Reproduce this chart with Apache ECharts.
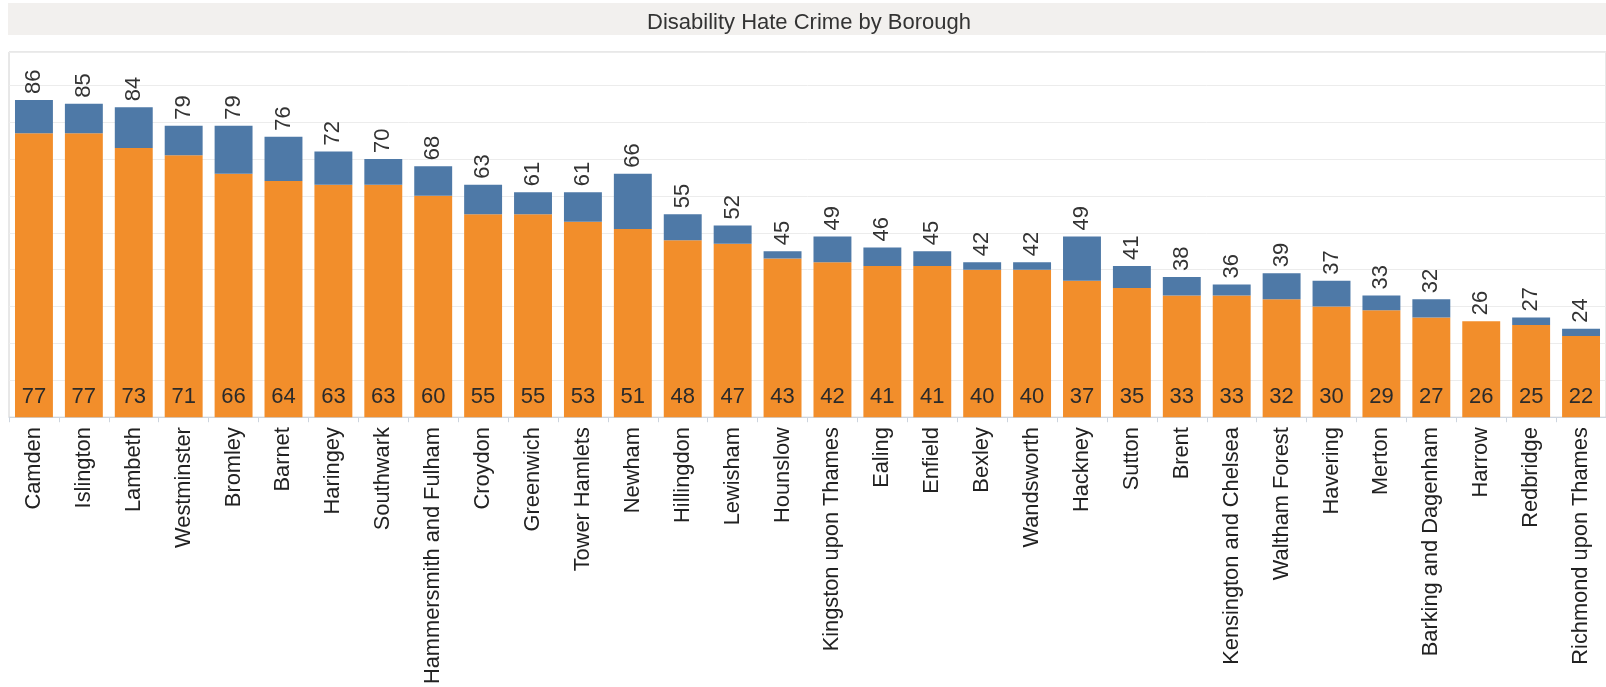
<!DOCTYPE html>
<html>
<head>
<meta charset="utf-8">
<script src="https://cdn.jsdelivr.net/npm/echarts@6/dist/echarts.min.js"></script>
<style>
html,body{margin:0;padding:0;background:#fff;overflow:hidden;}
#chart{width:1606px;height:687px;}
</style>
</head>
<body>
<div id="chart"></div>
<script>
const categories = ["Camden","Islington","Lambeth","Westminster","Bromley","Barnet","Haringey","Southwark","Hammersmith and Fulham","Croydon","Greenwich","Tower Hamlets","Newham","Hillingdon","Lewisham","Hounslow","Kingston upon Thames","Ealing","Enfield","Bexley","Wandsworth","Hackney","Sutton","Brent","Kensington and Chelsea","Waltham Forest","Havering","Merton","Barking and Dagenham","Harrow","Redbridge","Richmond upon Thames"];
const orangeValues = [77,77,73,71,66,64,63,63,60,55,55,53,51,48,47,43,42,41,41,40,40,37,35,33,33,32,30,29,27,26,25,22];
const blueValues = [9,8,11,8,13,12,9,7,8,8,6,8,15,7,5,2,7,5,4,2,2,12,6,5,3,7,7,4,5,0,2,2];
const totalValues = [86,85,84,79,79,76,72,70,68,63,61,61,66,55,52,45,49,46,45,42,42,49,41,38,36,39,37,33,32,26,27,24];
const titleText = "Disability Hate Crime by Borough";

const chart = echarts.init(document.getElementById('chart'), null, {renderer:'canvas'});
const FONT = "'Liberation Sans', Arial, sans-serif";
chart.setOption({
  animation: false,
  backgroundColor: '#ffffff',
  title: {
    text: titleText,
    left: 804, top: 7,
    textAlign: 'center',
    textStyle: {fontFamily: FONT, fontSize: 22, fontWeight: 'normal', color: '#333333'}
  },
  graphic: [{
    type: 'rect', z: -1,
    shape: {x: 8, y: 3, width: 1610, height: 32},
    style: {fill: '#f2f0ee'}
  }],
  grid: {
    left: 9, top: 52, width: 1600, height: 366,
    show: true, borderColor: '#d0d0d0', borderWidth: 1
  },
  xAxis: {
    type: 'category',
    data: categories,
    axisLine: {show: true, lineStyle: {color: '#cdd5df'}},
    axisTick: {show: true, length: 5, lineStyle: {color: '#cdd5df'}},
    axisLabel: {
      rotate: 90, interval: 0, margin: 10,
      fontFamily: FONT, fontSize: 21.8, color: '#222222'
    }
  },
  yAxis: {
    type: 'value', min: 0, max: 99, interval: 10,
    axisLabel: {show: false},
    axisLine: {show: false},
    axisTick: {show: false},
    splitLine: {show: true, lineStyle: {color: '#ececec', width: 1}}
  },
  series: [
    {
      type: 'bar', stack: 'total', data: orangeValues,
      barCategoryGap: '24%',
      itemStyle: {color: '#f28e2b'},
      label: {
        show: true, position: 'insideBottom', distance: 9,
        fontFamily: FONT, fontSize: 22, color: '#2a2a2a'
      }
    },
    {
      type: 'bar', stack: 'total', data: blueValues,
      barCategoryGap: '24%',
      itemStyle: {color: '#4e79a7'}
    },
    {
      type: 'custom',
      data: totalValues.map((v, i) => [i, v]),
      z: 5,
      silent: true,
      renderItem: function (params, api) {
        const pt = api.coord([api.value(0), api.value(1)]);
        return {
          type: 'text',
          x: pt[0], y: pt[1] - 6,
          rotation: Math.PI / 2,
          style: {
            text: String(api.value(1)),
            font: '22px ' + FONT,
            fill: '#333333',
            align: 'left',
            verticalAlign: 'middle'
          }
        };
      }
    }
  ]
});
</script>
</body>
</html>
